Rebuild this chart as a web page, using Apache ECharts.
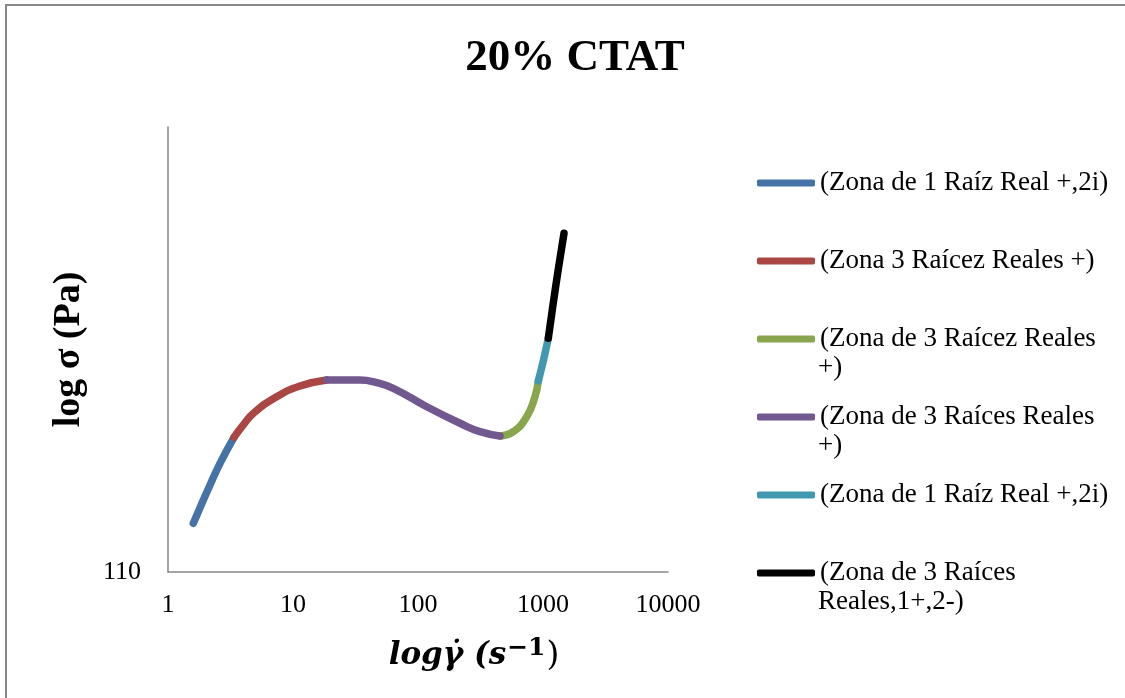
<!DOCTYPE html>
<html>
<head>
<meta charset="utf-8">
<title>20% CTAT</title>
<script src="https://cdn.jsdelivr.net/npm/echarts@6/dist/echarts.min.js"></script>
<style>
  html, body { margin: 0; padding: 0; background: #ffffff; }
  #chart { width: 1125px; height: 698px; }
</style>
</head>
<body>
<div id="chart"></div>
<script>
// Shear rate (s^-1) and stress (Pa) along each zone of the flow curve
const zone1X = [1.594, 1.748, 2.168, 2.606, 3.373];
const zone1Y = [141.5, 150.3, 172.6, 193.0, 220.8];

const zone2X = [3.373, 4.004, 4.814, 7.406, 11.38, 18.61];
const zone2Y = [220.8, 235.4, 250.0, 272.5, 288.0, 297.1];

const zone3X = [452.9, 578.7, 740.7, 863.0, 917.1];
const zone3Y = [222.3, 227.4, 245.7, 272.5, 295.6];

const zone4X = [18.61, 34.36, 46.73, 63.45, 117.4, 216.8, 313.3, 452.9];
const zone4Y = [297.1, 297.1, 293.1, 284.6, 258.7, 237.5, 227.4, 222.3];

const zone5X = [917.1, 1009, 1102.6];
const zone5Y = [295.6, 329.4, 368.6];

const zone6X = [1102.6, 1202, 1330, 1472];
const zone6Y = [368.6, 437.9, 530.4, 634.6];

const xTickLabels = ['1', '10', '100', '1000', '10000'];
const yTickLabels = ['110'];

// Legend entries: first line shown beside the swatch, the rest wraps below
const zoneLines = [
  ['(Zona de 1 Raíz Real +,2i)'],
  ['(Zona 3 Raícez Reales +)'],
  ['(Zona de 3 Raícez Reales', '+)'],
  ['(Zona de 3 Raíces Reales', '+)'],
  ['(Zona de 1 Raíz Real +,2i)'],
  ['(Zona de 3 Raíces', 'Reales,1+,2-)']
];
const zoneColors = ['#4572A7', '#AA4643', '#89A54E', '#71588F', '#4198AF', '#000000'];
const zonesX = [zone1X, zone2X, zone3X, zone4X, zone5X, zone6X];
const zonesY = [zone1Y, zone2Y, zone3Y, zone4Y, zone5Y, zone6Y];

const SERIF = '"Liberation Serif", "DejaVu Serif", serif';
const MATH = '"DejaVu Serif", "Liberation Serif", serif';

// Two legend entries share the same label, so each series gets a unique key
const seriesKeys = zoneLines.map((lines, i) => 'z' + (i + 1));
const legendText = {};
seriesKeys.forEach((k, i) => { legendText[k] = zoneLines[i][0]; });

const series = seriesKeys.map((key, i) => ({
  name: key,
  type: 'line',
  smooth: 0.5,
  showSymbol: false,
  symbol: 'none',
  z: 2 + i,
  color: zoneColors[i],
  lineStyle: { width: 7.5, color: zoneColors[i], cap: 'round', join: 'round' },
  emphasis: { disabled: true },
  data: zonesX[i].map((x, j) => [x, zonesY[i][j]])
}));

// Legend layout
const LEGEND_LEFT = 757;
const LEGEND_FIRST = 183;
const LEGEND_STEP = 78;
const LEGEND_LINE = 29;
const LEGEND_FONT = 27;

const wrapTexts = [];
zoneLines.forEach((lines, i) => {
  for (let k = 1; k < lines.length; k++) {
    wrapTexts.push({
      type: 'text',
      left: LEGEND_LEFT + 61,
      top: LEGEND_FIRST + i * LEGEND_STEP + k * LEGEND_LINE - 15,
      style: {
        text: lines[k],
        font: LEGEND_FONT + 'px ' + SERIF,
        fill: '#000000',
        lineHeight: 30
      }
    });
  }
});

const chart = echarts.init(document.getElementById('chart'), null, { renderer: 'canvas' });

chart.setOption({
  backgroundColor: '#ffffff',
  animation: false,
  title: {
    text: '20% CTAT',
    left: 570,
    top: 31,
    textAlign: 'center',
    textStyle: {
      fontFamily: SERIF,
      fontWeight: 'bold',
      fontSize: 45,
      color: '#000000'
    }
  },
  grid: { left: 168, top: 127, right: 457, bottom: 126, containLabel: false },
  legend: {
    orient: 'vertical',
    left: LEGEND_LEFT,
    top: LEGEND_FIRST - 15,
    padding: 0,
    itemWidth: 58,
    itemHeight: 7,
    itemGap: LEGEND_STEP - 30,
    icon: 'roundRect',
    selectedMode: false,
    data: seriesKeys,
    formatter: name => legendText[name],
    textStyle: {
      fontFamily: SERIF,
      fontSize: LEGEND_FONT,
      color: '#000000',
      lineHeight: 30
    }
  },
  xAxis: {
    type: 'log',
    logBase: 10,
    min: 1,
    max: 10000,
    name: '{it|logγ̇ (s}{sup|−1}{up|)}',
    nameLocation: 'middle',
    nameGap: 64,
    nameTextStyle: {
      padding: [0, 0, 0, 112],
      rich: {
        it: { fontFamily: MATH, fontStyle: 'italic', fontWeight: 'bold', fontSize: 31, color: '#000', lineHeight: 40 },
        sup: { fontFamily: MATH, fontWeight: 'bold', fontSize: 25, color: '#000', verticalAlign: 'top', lineHeight: 40, padding: [0, 1, 16, 1] },
        up: { fontFamily: MATH, fontWeight: 'normal', fontSize: 33, color: '#000', lineHeight: 40 }
      }
    },
    axisLine: { show: true, onZero: false, lineStyle: { color: '#878787', width: 1.5 } },
    axisTick: { show: false },
    splitLine: { show: false },
    minorTick: { show: false },
    axisLabel: {
      margin: 20,
      fontFamily: SERIF,
      fontSize: 26,
      color: '#000000',
      formatter: v => {
        const s = String(Math.round(v));
        return xTickLabels.indexOf(s) >= 0 ? s : '';
      }
    }
  },
  yAxis: {
    type: 'log',
    logBase: 10,
    min: 110,
    max: 1100,
    name: 'log σ (Pa)',
    nameLocation: 'middle',
    nameGap: 80,
    nameRotate: 90,
    nameTextStyle: {
      fontFamily: SERIF,
      fontWeight: 'bold',
      fontSize: 38,
      color: '#000000'
    },
    axisLine: { show: true, onZero: false, lineStyle: { color: '#878787', width: 1.5 } },
    axisTick: { show: false },
    splitLine: { show: false },
    axisLabel: {
      margin: 27,
      fontFamily: SERIF,
      fontSize: 26,
      color: '#000000',
      showMaxLabel: false,
      formatter: v => {
        const s = String(Math.round(v));
        return yTickLabels.indexOf(s) >= 0 ? s : '';
      }
    }
  },
  graphic: [
    {
      type: 'rect',
      silent: true,
      shape: { x: 6, y: 5, width: 1200, height: 800 },
      style: { fill: 'none', stroke: '#888888', lineWidth: 2 }
    }
  ].concat(wrapTexts),
  series: series
});
</script>
</body>
</html>
